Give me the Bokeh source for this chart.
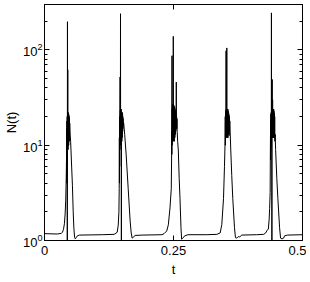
from bokeh.plotting import figure
from bokeh.models import Range1d, FixedTicker, LogAxis, LinearAxis, LogTickFormatter, CustomLabelingPolicy
from bokeh.embed import file_html
from bokeh.resources import INLINE

# ---- data ----
base_t = [0.0, 0.0251, 0.0328]
base_n = [1.18, 1.17, 1.19]

pulse1_t = [0.0347, 0.0367, 0.0386, 0.0400, 0.0411, 0.0421, 0.0428,
            0.0431, 0.0433, 0.0435, 0.0437, 0.0440, 0.0442, 0.0445, 0.0447, 0.0449, 0.0451,
            0.0453, 0.0455, 0.0457, 0.0459, 0.0461, 0.0463, 0.0465, 0.0467, 0.0469, 0.0471,
            0.0473, 0.0475, 0.0477, 0.0479, 0.0481, 0.0483, 0.0486, 0.0489, 0.0494,
            0.0506, 0.0521, 0.0541, 0.0556, 0.0569, 0.0583, 0.0598, 0.0618,
            0.0637, 0.0676, 0.1120, 0.1351]
pulse1_n = [1.22, 1.30, 1.50, 1.9, 2.6, 4.5, 8,
            15, 4, 18, 6, 20, 0.9, 198, 11, 21, 62,
            10, 22, 9, 21, 10, 22, 11, 20, 10, 21,
            11, 19, 11, 20, 12, 18, 13, 17, 14,
            11, 7, 3.8, 2.0, 1.35, 1.08, 1.04, 1.08,
            1.12, 1.14, 1.15, 1.16]

pulse2_t = [0.1409, 0.1429, 0.1442, 0.1448, 0.1451, 0.1453, 0.1455, 0.1457, 0.1459, 0.1461,
            0.1463, 0.1465, 0.1467, 0.1469, 0.1471, 0.1473, 0.1475, 0.1477, 0.1479, 0.1481,
            0.1483, 0.1485, 0.1487, 0.1490, 0.1493, 0.1495, 0.1497, 0.1499, 0.1501, 0.1503,
            0.1505, 0.1507, 0.1509, 0.1511, 0.1513, 0.1515, 0.1517, 0.1520, 0.1523, 0.1527,
            0.1535, 0.1554, 0.1583, 0.1622, 0.1660, 0.1680, 0.1699, 0.1718, 0.1757, 0.1892,
            0.2278]
pulse2_n = [1.22, 1.45, 2.0, 3.5, 12, 4, 16, 6, 20, 9,
            22, 52, 10, 23, 11, 240, 12, 24, 11, 23,
            12, 24, 11, 0.9, 22, 12, 21, 11, 22, 12,
            21, 13, 22, 13, 21, 14, 20, 15, 19, 16,
            17, 13, 7.9, 3.5, 1.6, 1.2, 1.06, 1.08, 1.13, 1.14,
            1.15]

pulse3_t = [0.2317, 0.2369, 0.2400, 0.2432, 0.2457, 0.2463, 0.2466, 0.2468, 0.2471, 0.2473,
            0.2475, 0.2477, 0.2479, 0.2481, 0.2483, 0.2485, 0.2487, 0.2489, 0.2492, 0.2494,
            0.2496, 0.2498, 0.2500, 0.2502, 0.2504, 0.2506, 0.2508, 0.2510, 0.2512, 0.2514,
            0.2516, 0.2518, 0.2520, 0.2522, 0.2524, 0.2526, 0.2528, 0.2530, 0.2532, 0.2534,
            0.2536, 0.2539, 0.2542, 0.2545, 0.2548, 0.2551, 0.2554, 0.2557, 0.2560, 0.2563,
            0.2567, 0.2571, 0.2580, 0.2593, 0.2610, 0.2626, 0.2645, 0.2658, 0.2683, 0.2722,
            0.2780, 0.3147]
pulse3_n = [1.18, 1.26, 1.46, 2.2, 3.5, 7, 14, 8, 87, 10,
            24, 11, 26, 12, 25, 11, 27, 12, 25, 12,
            139, 13, 27, 12, 26, 11, 25, 12, 26, 11,
            25, 12, 24, 13, 25, 12, 24, 13, 23, 13,
            22, 14, 22, 14, 21, 15, 46, 15, 20, 15,
            19, 14, 11, 8.9, 4.5, 2.75, 1.36, 1.03, 1.07, 1.12,
            1.15, 1.15]

pulse4_t = [0.3340, 0.3404, 0.3436, 0.3469, 0.3488, 0.3500, 0.3503, 0.3505, 0.3508, 0.3510,
            0.3512, 0.3514, 0.3517, 0.3519, 0.3521, 0.3523, 0.3525, 0.3527, 0.3529, 0.3531,
            0.3533, 0.3535, 0.3537, 0.3539, 0.3541, 0.3543, 0.3545, 0.3547, 0.3549, 0.3551,
            0.3553, 0.3555, 0.3557, 0.3559, 0.3562, 0.3565, 0.3568, 0.3571, 0.3574, 0.3577,
            0.3581, 0.3586, 0.3591, 0.3610, 0.3629, 0.3649, 0.3682, 0.3701, 0.3726, 0.3755,
            0.3784, 0.3822, 0.4112]
pulse4_n = [1.16, 1.2, 1.47, 2.75, 6, 11, 20, 10, 22, 12,
            23, 12, 24, 98, 13, 24, 12, 23, 13, 24,
            105, 13, 24, 12, 23, 13, 24, 12, 23, 13,
            24, 12, 23, 13, 22, 13, 22, 13, 21, 12.6,
            20, 14, 18, 8.9, 4.8, 2.75, 1.36, 1.07, 1.06, 1.10,
            1.09, 1.14, 1.15]

pulse5_t = [0.4247, 0.4286, 0.4315, 0.4338, 0.4353, 0.4363, 0.4373, 0.4377, 0.4380, 0.4382,
            0.4384, 0.4386, 0.4388, 0.4390, 0.4392, 0.4394, 0.4396, 0.4398, 0.4400, 0.4402,
            0.4404, 0.4407, 0.4410, 0.4413, 0.4415, 0.4417, 0.4419, 0.4421, 0.4423, 0.4425,
            0.4427, 0.4429, 0.4431, 0.4433, 0.4435, 0.4437, 0.4439, 0.4441, 0.4443, 0.4445,
            0.4447, 0.4449, 0.4452, 0.4455, 0.4458, 0.4461, 0.4465, 0.4470, 0.4479, 0.4502,
            0.4523, 0.4556, 0.4575, 0.4604, 0.4633, 0.4653, 0.4710, 0.5]
pulse5_n = [1.16, 1.2, 1.28, 1.32, 1.64, 2.17, 3.2, 8, 14, 7,
            18, 9, 21, 10, 22, 11, 23, 245, 12, 23,
            14, 0.9, 22, 49, 12, 24, 12, 30, 13, 24,
            12, 23, 13, 24, 12, 23, 13, 24, 12, 23,
            13, 22, 13, 21, 12, 20, 11, 13, 9, 4.5,
            2.75, 1.36, 1.06, 1.04, 1.06, 1.12, 1.14, 1.15]

x_ticks = [0, 0.25, 0.5]
x_tick_labels = ["0", "0.25", "0.5"]
y_major = [1, 10, 100]
y_minor = [2, 3, 4, 5, 6, 7, 8, 9, 20, 30, 40, 50, 60, 70, 80, 90, 200, 300]

t = base_t + pulse1_t + pulse2_t + pulse3_t + pulse4_t + pulse5_t
n = base_n + pulse1_n + pulse2_n + pulse3_n + pulse4_n + pulse5_n

FONT = "Liberation Sans"
FS = "13px"

p = figure(frame_width=258, frame_height=236, x_range=Range1d(0, 0.5), y_range=Range1d(1, 300),
           y_axis_type="log", output_backend="svg", toolbar_location=None,
           min_border_left=0, min_border_right=0, min_border_top=0, min_border_bottom=0)

p.line(t, n, line_color="black", line_width=1)

p.grid.visible = False
p.outline_line_color = "black"
p.outline_line_width = 1
p.background_fill_color = "white"
p.border_fill_color = "white"

xt = FixedTicker(ticks=x_ticks, minor_ticks=[])
yt = FixedTicker(ticks=y_major, minor_ticks=y_minor)

xa = p.xaxis[0]
xa.ticker = xt
xa.major_label_overrides = {k: v for k, v in zip(x_ticks, x_tick_labels)}
xa.axis_label = "t"
ya = p.yaxis[0]
ya.ticker = yt
ya.formatter = LogTickFormatter()
ya.axis_label = "N(t)"

for ax in (xa, ya):
    ax.major_tick_in = 5
    ax.major_tick_out = 0
    ax.minor_tick_in = 3
    ax.minor_tick_out = 0
    ax.axis_line_color = "black"
    ax.major_tick_line_color = "black"
    ax.minor_tick_line_color = "black"
    ax.major_label_text_font = FONT
    ax.major_label_text_font_size = FS
    ax.major_label_text_color = "black"
    ax.axis_label_text_font = FONT
    ax.axis_label_text_font_size = FS
    ax.axis_label_text_font_style = "normal"
    ax.axis_label_text_color = "black"
xa.major_label_standoff = 5
xa.axis_label_standoff = 4
ya.major_label_standoff = 2
ya.axis_label_standoff = 1

no_labels = CustomLabelingPolicy(code="""
    for (const i of Array.from(indices)) indices.unset(i)
    return indices
""")

top = LinearAxis(ticker=FixedTicker(ticks=x_ticks, minor_ticks=[]),
                 major_label_policy=no_labels, major_label_standoff=0,
                 major_label_text_font_size="1px",
                 major_tick_in=5, major_tick_out=0, minor_tick_in=0, minor_tick_out=0,
                 axis_line_color="black")
right = LogAxis(ticker=FixedTicker(ticks=y_major, minor_ticks=y_minor),
                major_label_policy=no_labels, major_label_standoff=0,
                major_label_text_font_size="1px",
                major_tick_in=5, major_tick_out=0, minor_tick_in=3, minor_tick_out=0,
                axis_line_color="black")
p.add_layout(top, "above")
p.add_layout(right, "right")

open("out.html", "w").write(file_html(p, INLINE))
